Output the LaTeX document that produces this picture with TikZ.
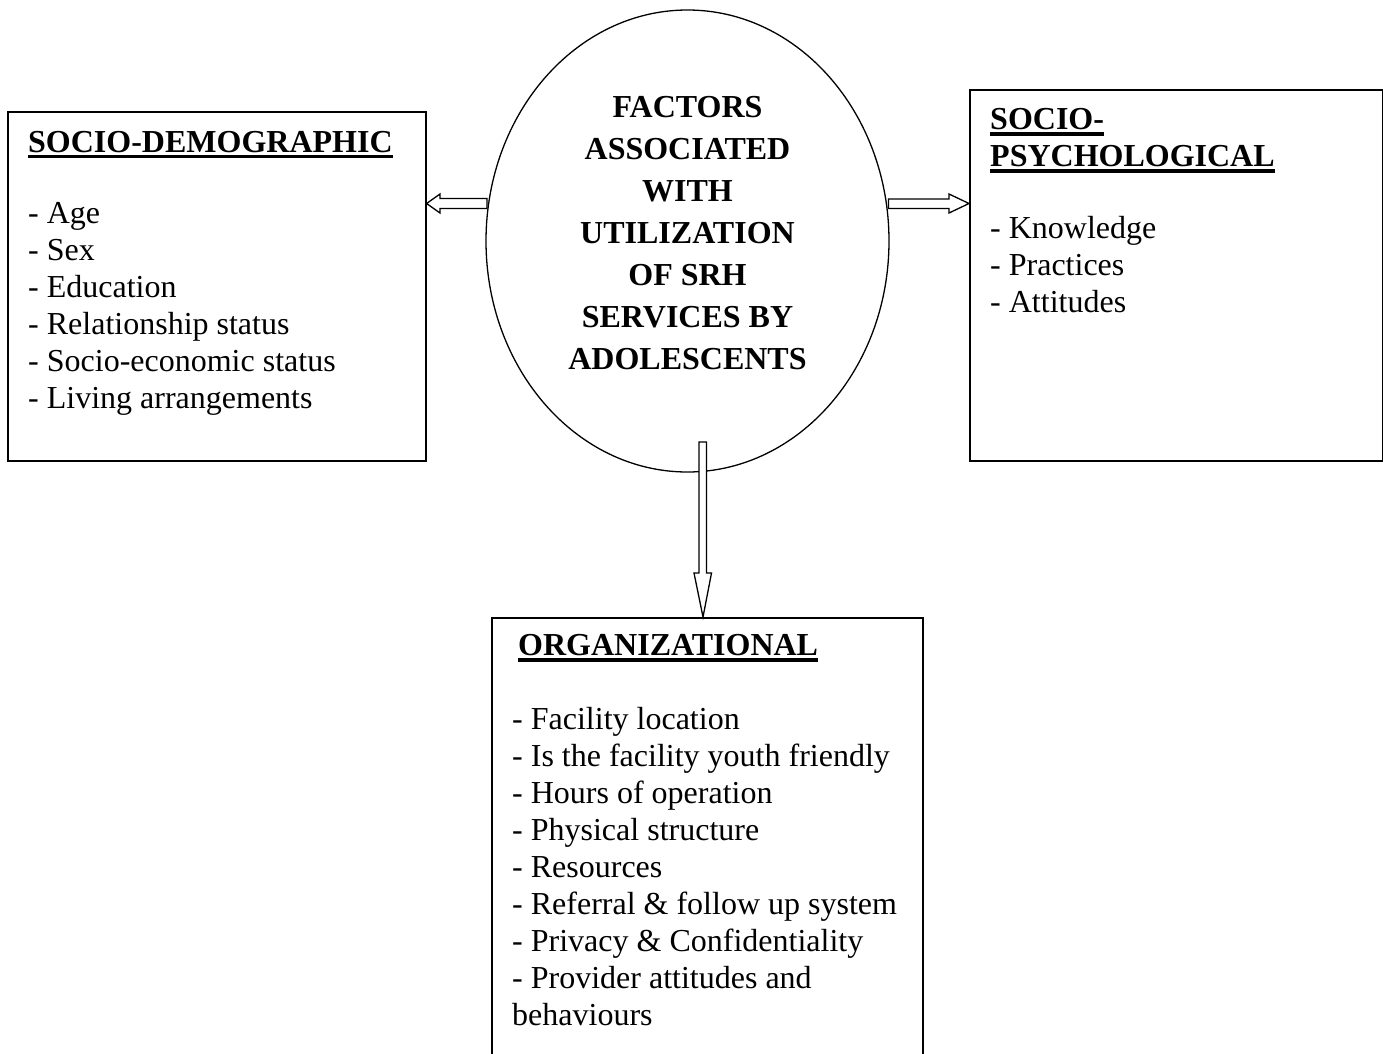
\documentclass[tikz,border=0pt]{standalone}
\usepackage{fontspec}
\setmainfont{Liberation Serif}
\begin{document}
\begin{tikzpicture}[x=1pt,y=-1pt,
  box/.style={draw,line width=1.6pt,anchor=north west,inner sep=0pt},
  item/.style={anchor=base west,inner sep=0pt,font=\fontsize{32}{37}\selectfont},
  head/.style={anchor=base west,inner sep=0pt,font=\fontsize{32}{37}\selectfont\bfseries},
  coreline/.style={anchor=base,inner sep=0pt,font=\fontsize{32}{42}\selectfont\bfseries},
  uline/.style={line width=3.2pt},
  blockarrow/.style={draw,fill=white,line width=1.3pt,line join=miter}]
\useasboundingbox (0,0) rectangle (1383,1053);
\clip (0,0) rectangle (1383,1053);
% boxes
\node[box,minimum width=418pt,minimum height=349pt] (demo) at (7,111) {};
\node[box,minimum width=413pt,minimum height=371pt] (psych) at (969,89) {};
\node[box,minimum width=431pt,minimum height=500pt] (org) at (491,617) {};
% central ellipse
\draw[line width=1.3pt] (687.5,241) ellipse [x radius=201.5, y radius=231];
\coordinate (core) at (687.5,241);
\foreach \t [count=\i] in {FACTORS, ASSOCIATED, WITH, UTILIZATION, OF SRH, SERVICES BY, ADOLESCENTS}
  \node[coreline,name=c\i] at (687.5,{117+42*(\i-1)}) {\t};
% socio-demographic
\node[head] (dhead) at (28,152) {SOCIO-DEMOGRAPHIC};
\draw[uline] ([yshift=-4.5pt]dhead.base west) -- ([yshift=-4.5pt]dhead.base east);
\foreach \t [count=\i] in {Age, Sex, Education, Relationship status, Socio-economic status, Living arrangements}
  \node[item,name=d\i] at (28,{223+37*(\i-1)}) {- \t};
% socio-psychological
\node[head] (phead1) at (990,129) {SOCIO-};
\node[head] (phead2) at (990,166) {PSYCHOLOGICAL};
\draw[uline] ([yshift=-5pt]phead1.base west) -- ([yshift=-5pt]phead1.base east);
\draw[uline] ([yshift=-5pt]phead2.base west) -- ([yshift=-5pt]phead2.base east);
\foreach \t [count=\i] in {Knowledge, Practices, Attitudes}
  \node[item,name=p\i] at (990,{238+37*(\i-1)}) {- \t};
% organizational
\node[head] (ohead) at (518,655) {ORGANIZATIONAL};
\draw[uline] ([yshift=-5pt]ohead.base west) -- ([yshift=-5pt]ohead.base east);
\foreach \t [count=\i] in {- Facility location, - Is the facility youth friendly, - Hours of operation, - Physical structure, - Resources, - Referral \& follow up system, - Privacy \& Confidentiality, - Provider attitudes and, behaviours}
  \node[item,name=o\i] at (512,{729+37*(\i-1)}) {\t};
% block arrows
\draw[blockarrow] (487,198.5) -- (440,198.5) -- (440,194) -- (demo.east |- 0,203.5) -- (440,213) -- (440,208.5) -- (487,208.5) -- cycle;
\draw[blockarrow] (888.5,199) -- (949,199) -- (949,194) -- (psych.west |- 0,203.5) -- (949,213) -- (949,208.5) -- (888.5,208.5) -- cycle;
\draw[blockarrow] (699,442) -- (706.5,442) -- (706.5,573) -- (711.5,573) -- (org.north -| 703,0) -- (694,573) -- (699,573) -- cycle;
\end{tikzpicture}
\end{document}
